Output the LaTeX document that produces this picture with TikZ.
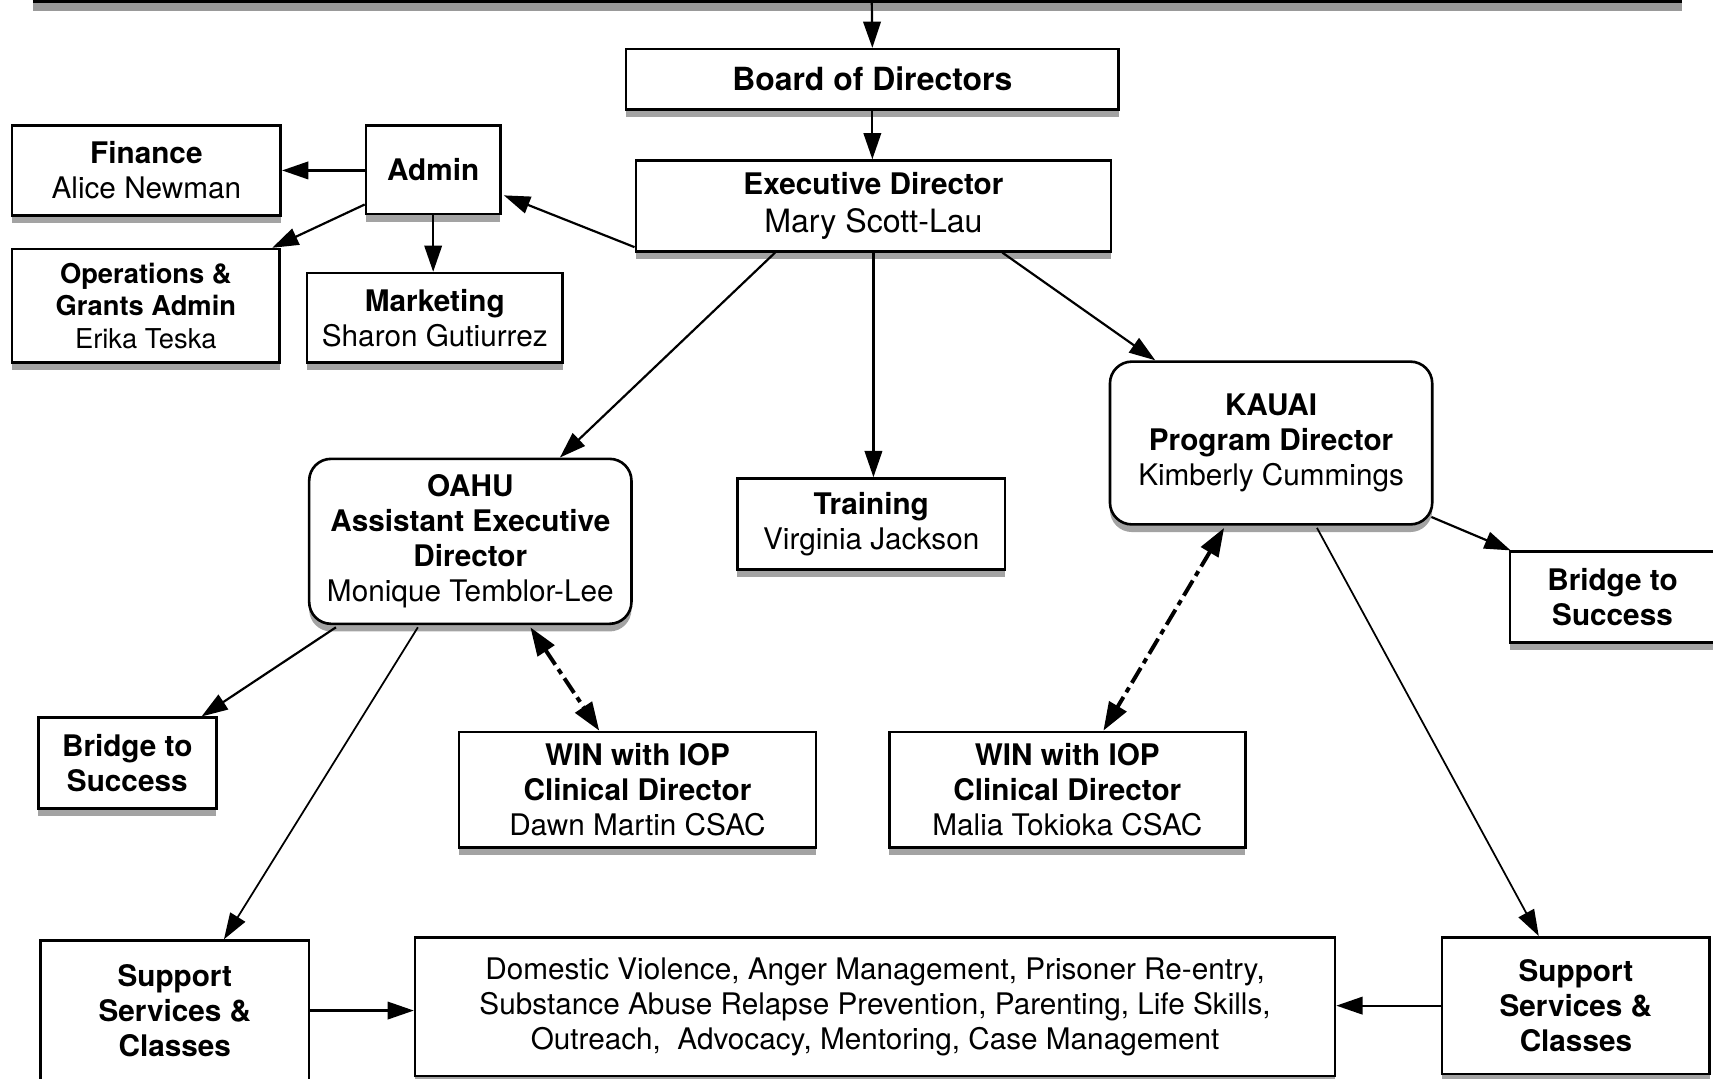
\documentclass[tikz,border=0pt]{standalone}
\usepackage{fontspec}
\setmainfont{TeX Gyre Heros}
\usetikzlibrary{arrows.meta,shadows,calc}
\tikzset{
  box/.style={draw, line width=1.2pt, fill=white, align=center, inner sep=0pt,
    font=\fontsize{13.6}{16}\selectfont,
    drop shadow={shadow xshift=0pt, shadow yshift=-3.5pt, fill=black!45, opacity=0.8}},
  rbox/.style={box, rounded corners=10pt},
  arr/.style={-{Triangle[length=12pt,width=8pt]}, line width=1pt},
  thinarr/.style={-{Triangle[length=12pt,width=8pt]}, line width=0.8pt},
  dasharr/.style={{Triangle[length=13pt,width=9pt]}-{Triangle[length=13pt,width=9pt]}, line width=1.8pt,
    dash pattern=on 8pt off 2.5pt on 2.5pt off 2.5pt},
}
\begin{document}
\begin{tikzpicture}[x=0.5pt,y=-0.5pt]
\useasboundingbox (0,0) rectangle (1568,987);
% top edge
\fill[black!40] (30,2) rectangle (1540,10);
\draw[line width=1.6pt] (30,1.5) -- (1540,1.5);
\coordinate (topc) at (798,2);

\node[box, minimum width=451*0.5pt, minimum height=55*0.5pt, font=\fontsize{14.6}{16}\selectfont\bfseries] (board) at (798.5,72.5) {Board of Directors};
\node[box, minimum width=435*0.5pt, minimum height=83*0.5pt, font=\fontsize{13.6}{17}\selectfont] (exec) at (799.5,188.5) {\textbf{Executive Director}\\{\fontsize{14.7}{17}\selectfont Mary Scott-Lau}};
\node[box, minimum width=123*0.5pt, minimum height=81*0.5pt] (admin) at (396.5,155.5) {\textbf{Admin}};
\node[box, minimum width=246*0.5pt, minimum height=82*0.5pt] (finance) at (134,156) {\textbf{Finance}\\Alice Newman};
\node[box, minimum width=245*0.5pt, minimum height=104*0.5pt, font=\fontsize{12.5}{15}\selectfont] (ops) at (133.5,280) {\textbf{Operations \&}\\\textbf{Grants Admin}\\Erika Teska};
\node[box, minimum width=234*0.5pt, minimum height=82*0.5pt] (marketing) at (398,291) {\textbf{Marketing}\\Sharon Gutiurrez};
\node[rbox, minimum width=295*0.5pt, minimum height=151*0.5pt] (oahu) at (430.5,495.5) {\textbf{OAHU}\\\textbf{Assistant Executive}\\\textbf{Director}\\Monique Temblor-Lee};
\node[box, minimum width=245*0.5pt, minimum height=83*0.5pt] (training) at (797.5,479.5) {\textbf{Training}\\Virginia Jackson};
\node[rbox, minimum width=295*0.5pt, minimum height=149*0.5pt] (kauai) at (1163.5,405.5) {\textbf{KAUAI}\\\textbf{Program Director}\\Kimberly Cummings};
\node[box, minimum width=188*0.5pt, minimum height=83*0.5pt] (bridgeR) at (1476,546.5) {\textbf{Bridge to}\\\textbf{Success}};
\node[box, minimum width=163*0.5pt, minimum height=83*0.5pt] (bridgeL) at (116.5,698.5) {\textbf{Bridge to}\\\textbf{Success}};
\node[box, minimum width=327*0.5pt, minimum height=106*0.5pt] (winO) at (583.5,723) {\textbf{WIN with IOP}\\\textbf{Clinical Director}\\Dawn Martin CSAC};
\node[box, minimum width=326*0.5pt, minimum height=106*0.5pt] (winK) at (977,723) {\textbf{WIN with IOP}\\\textbf{Clinical Director}\\Malia Tokioka CSAC};
\node[box, minimum width=246*0.5pt, minimum height=128*0.5pt] (supL) at (160,925) {\textbf{Support}\\\textbf{Services \&}\\\textbf{Classes}};
\node[box, minimum width=842*0.5pt, minimum height=127*0.5pt] (prog) at (801,921.5) {Domestic Violence, Anger Management, Prisoner Re-entry,\\Substance Abuse Relapse Prevention, Parenting, Life Skills,\\Outreach,\ \ Advocacy, Mentoring, Case Management};
\node[box, minimum width=245*0.5pt, minimum height=125*0.5pt] (supR) at (1442.5,920.5) {\textbf{Support}\\\textbf{Services \&}\\\textbf{Classes}};

% connectors
\draw[arr] (topc) -- (board.north);
\draw[arr] (board.south) -- (board.south |- exec.north);
\draw[arr] ($(exec.south west)+(0,-5)$) -- ($(admin.north east)+(2,65)$);
\draw[arr] (admin.west |- finance.east) -- (finance.east);
\draw[arr] ($(admin.south west)+(0,-10)$) -- ($(ops.north east)+(-8,0)$);
\draw[arr] (admin.south) -- (admin.south |- marketing.north);
\draw[arr] ($(exec.south)+(-90,0)$) -- ($(oahu.north)+(82,0)$);
\draw[arr] (exec.south) -- (exec.south |- training.north);
\draw[arr] ($(exec.south)+(118,0)$) -- ($(kauai.north)+(-106,0)$);
\draw[arr] ($(kauai.south east)+(-2,-8)$) -- ($(bridgeR.north west)+(2,0)$);
\draw[arr] ($(oahu.south)+(-123,2)$) -- ($(bridgeL.north)+(68,0)$);
\draw[dasharr] ($(oahu.south)+(55,2)$) -- ($(winO.north)+(-35,0)$);
\draw[thinarr] ($(oahu.south)+(-48,2)$) -- ($(supL.north)+(45,0)$);
\draw[dasharr] ($(kauai.south)+(-43,2)$) -- ($(winK.north)+(33,0)$);
\draw[thinarr] ($(kauai.south)+(42,2)$) -- ($(supR.north)+(-34,0)$);
\draw[arr] (supL.east) -- (supL.east -| prog.west);
\draw[arr] (supR.west) -- (supR.west -| prog.east);
\end{tikzpicture}
\end{document}
